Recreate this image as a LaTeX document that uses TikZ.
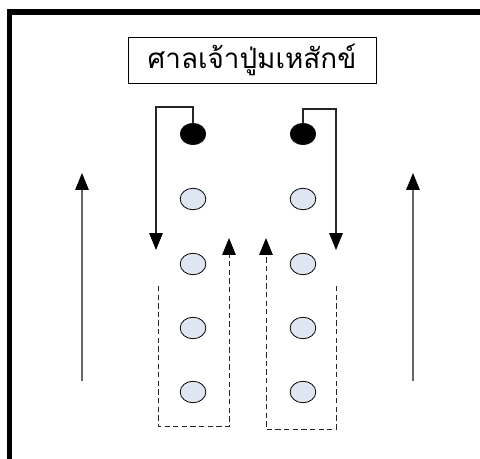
\documentclass[tikz,border=0pt]{standalone}
\usepackage{fontspec}
\newfontfamily\thaifont[Script=Thai]{Loma}
\usepackage{xcolor}
\usetikzlibrary{shapes.geometric,arrows.meta,positioning}
\definecolor{bead}{RGB}{222,230,242}

\begin{document}
\begin{tikzpicture}[
    x=0.0265cm, y=-0.0265cm,
    every node/.style={draw, inner sep=0pt},
    dark/.style={ellipse, fill=black, minimum width=0.68cm, minimum height=0.57cm},
    bead/.style={ellipse, fill=bead, line width=0.6pt, minimum width=0.68cm, minimum height=0.57cm},
    title/.style={rectangle, line width=0.6pt, minimum width=6.57cm, minimum height=1.22cm, font=\thaifont\fontsize{21}{25}\selectfont},
    link/.style={line width=0.8pt, draw=black!85},
    back/.style={link, line width=0.75pt, dash pattern=on 4pt off 2.5pt},
    >={Triangle[length=0.45cm, width=0.36cm, color=black]}
]
\useasboundingbox (0,0) rectangle (480,459);

% frame
\draw[line width=4pt] (9.5,459) -- (9.5,12) -- (480,12);

\node[title] (title) at (252,60) {ศาลเจ้าปู่มเหสักข์};

% left column
\node[dark] (l0) at (193,134) {};
\node[bead] (l1) at (193,199) {};
\node[bead] (l2) at (193,264) {};
\node[bead] (l3) at (193,328) {};
\node[bead] (l4) at (193,392) {};

% right column
\node[dark] (r0) at (303,134) {};
\node[bead] (r1) at (303,199) {};
\node[bead] (r2) at (303,264) {};
\node[bead] (r3) at (303,328) {};
\node[bead] (r4) at (303,392) {};

\coordinate (la) at (156,250);
\coordinate (ra) at (336,250);
\coordinate (lb) at (158,286);
\coordinate (lc) at (229,426);
\coordinate (lt) at (229,238);
\coordinate (rb) at (336,286);
\coordinate (rc) at (266,429);
\coordinate (rt) at (266,238);
\coordinate (ws) at (82,381);
\coordinate (we) at (82,173);
\coordinate (es) at (413,381);
\coordinate (ee) at (413,173);

\draw[link, ->] (l0.north) -- ++(0,-16) -| (la);
\draw[link, ->] (r0.north) -- ++(0,-14) -| (ra);
\draw[back, ->] (lb) |- (lc) -- (lt);
\draw[back, ->] (rb) |- (rc) -- (rt);
\draw[link, draw=black!60, ->] (ws) -- (we);
\draw[link, draw=black!60, ->] (es) -- (ee);

\end{tikzpicture}
\end{document}
